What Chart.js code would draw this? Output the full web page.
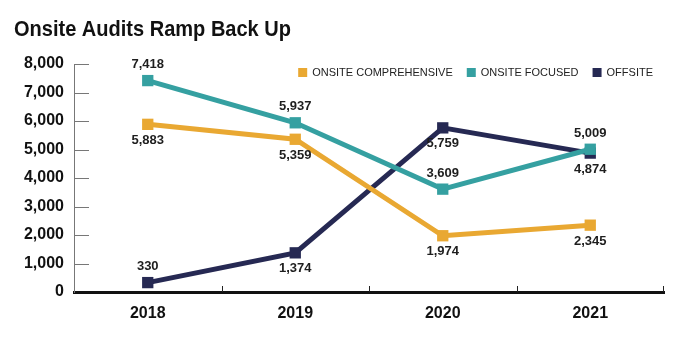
<!DOCTYPE html>
<html>
<head>
<meta charset="utf-8">
<script src="https://cdn.jsdelivr.net/npm/chart.js@4/dist/chart.umd.min.js"></script>
<style>
  html, body { margin: 0; padding: 0; background: #fff; }
  #wrap { width: 684px; height: 342px; }
</style>
</head>
<body>
<div id="wrap"><canvas id="grafica" width="684" height="342"></canvas></div>
<script>
const titulo = 'Onsite Audits Ramp Back Up';
const anios = ['2018', '2019', '2020', '2021'];
const comprehensive = [5883, 5359, 1974, 2345];
const focused = [7418, 5937, 3609, 5009];
const offsite = [330, 1374, 5759, 4874];
// posicion de la etiqueta: arriba (-1) o abajo (1)
const posComprehensive = [1, 1, 1, 1];
const posFocused = [-1, -1, -1, -1];
const posOffsite = [-1, 1, 1, 1];

const fuente = "'Liberation Sans', Arial, sans-serif";

// titulo y leyenda dibujados a mano (letra estrecha)
const cabecera = {
    id: 'cabecera',
    afterDraw(chart) {
        const ctx = chart.ctx;
        ctx.save();
        ctx.fillStyle = '#111';
        ctx.font = 'bold 22px ' + fuente;
        ctx.textBaseline = 'alphabetic';
        ctx.translate(14, 36);
        ctx.scale(0.91, 1);
        ctx.fillText(titulo, 0, 0);
        ctx.restore();

        ctx.save();
        ctx.font = '11px ' + fuente;
        ctx.textBaseline = 'middle';
        const items = chart.data.datasets.map(ds => ({ texto: ds.label, color: ds.borderColor, w: ctx.measureText(ds.label).width }));
        const total = items.reduce((a, it) => a + 9 + 5 + it.w, 0) + 14 * (items.length - 1);
        let x = chart.chartArea.right - 11 - total;
        const yc = 72.5;
        items.forEach(it => {
            ctx.fillStyle = it.color;
            ctx.fillRect(x, yc - 4.5, 9, 9);
            ctx.fillStyle = '#222';
            ctx.fillText(it.texto, x + 14, yc);
            x += 14 + it.w + 14;
        });
        ctx.restore();
    }
};

const etiquetas = {
    id: 'etiquetas',
    afterDatasetsDraw(chart) {
        const ctx = chart.ctx;
        ctx.save();
        ctx.font = 'bold 13px ' + fuente;
        ctx.fillStyle = '#1e1e1e';
        ctx.textAlign = 'center';
        ctx.textBaseline = 'middle';
        chart.data.datasets.forEach((ds, i) => {
            const meta = chart.getDatasetMeta(i);
            meta.data.forEach((p, j) => {
                const dir = ds.posiciones[j];
                ctx.fillText(ds.data[j].toLocaleString('en-US'), p.x, p.y + dir * 16);
            });
        });
        ctx.restore();
    }
};

const marcas = {
    id: 'marcas',
    afterDraw(chart) {
        const ctx = chart.ctx;
        const x = chart.scales.x;
        const y = chart.scales.y;
        ctx.save();
        // marcas del eje y hacia dentro
        ctx.strokeStyle = '#777';
        ctx.lineWidth = 1;
        y.ticks.forEach(t => {
            const py = Math.round(y.getPixelForValue(t.value)) + 0.5;
            if (t.value === 0) return;
            ctx.beginPath();
            ctx.moveTo(x.left, py);
            ctx.lineTo(x.left + 15, py);
            ctx.stroke();
        });
        // marcas del eje x entre categorias
        ctx.strokeStyle = '#222';
        ctx.lineWidth = 1;
        for (let i = 1; i <= anios.length; i++) {
            const px = Math.round((x.getPixelForValue(i - 1) + x.getPixelForValue(i)) / 2) + 0.5;
            const fx = i === anios.length ? x.right - 0.5 : px;
            ctx.beginPath();
            ctx.moveTo(fx, y.bottom);
            ctx.lineTo(fx, y.bottom - 6);
            ctx.stroke();
        }
        ctx.restore();
    }
};

new Chart(document.getElementById('grafica'), {
    type: 'line',
    data: {
        labels: anios,
        datasets: [{
            label: 'ONSITE COMPREHENSIVE',
            data: comprehensive,
            posiciones: posComprehensive,
            borderColor: '#e9a832',
            backgroundColor: '#e9a832'
        }, {
            label: 'ONSITE FOCUSED',
            data: focused,
            posiciones: posFocused,
            borderColor: '#35a0a1',
            backgroundColor: '#35a0a1'
        }, {
            label: 'OFFSITE',
            data: offsite,
            posiciones: posOffsite,
            borderColor: '#262953',
            backgroundColor: '#262953'
        }]
    },
    options: {
        responsive: false,
        animation: false,
        elements: {
            line: { borderWidth: 5, tension: 0 },
            point: { pointStyle: 'rect', radius: 8, borderWidth: 0 }
        },
        layout: { padding: { left: 8, right: 20, top: 64, bottom: 8 } },
        plugins: {
            legend: { display: false },
            tooltip: { enabled: false }
        },
        scales: {
            x: {
                offset: true,
                grid: { display: false, drawTicks: false },
                border: { display: true, color: '#111', width: 3 },
                ticks: { color: '#111', padding: 12, font: { family: fuente, size: 16, weight: 'bold' } },
                afterFit: s => { s.height = 42; }
            },
            y: {
                min: 0,
                max: 8000,
                ticks: {
                    stepSize: 1000,
                    color: '#111',
                    padding: 10,
                    font: { family: fuente, size: 16, weight: 'bold' },
                    callback: v => v.toLocaleString('en-US')
                },
                grid: { display: false, drawTicks: false },
                border: { display: true, color: '#777', width: 1 },
                afterFit: s => { s.width = 66; }
            }
        }
    },
    plugins: [etiquetas, marcas, cabecera]
});
</script>
</body>
</html>
